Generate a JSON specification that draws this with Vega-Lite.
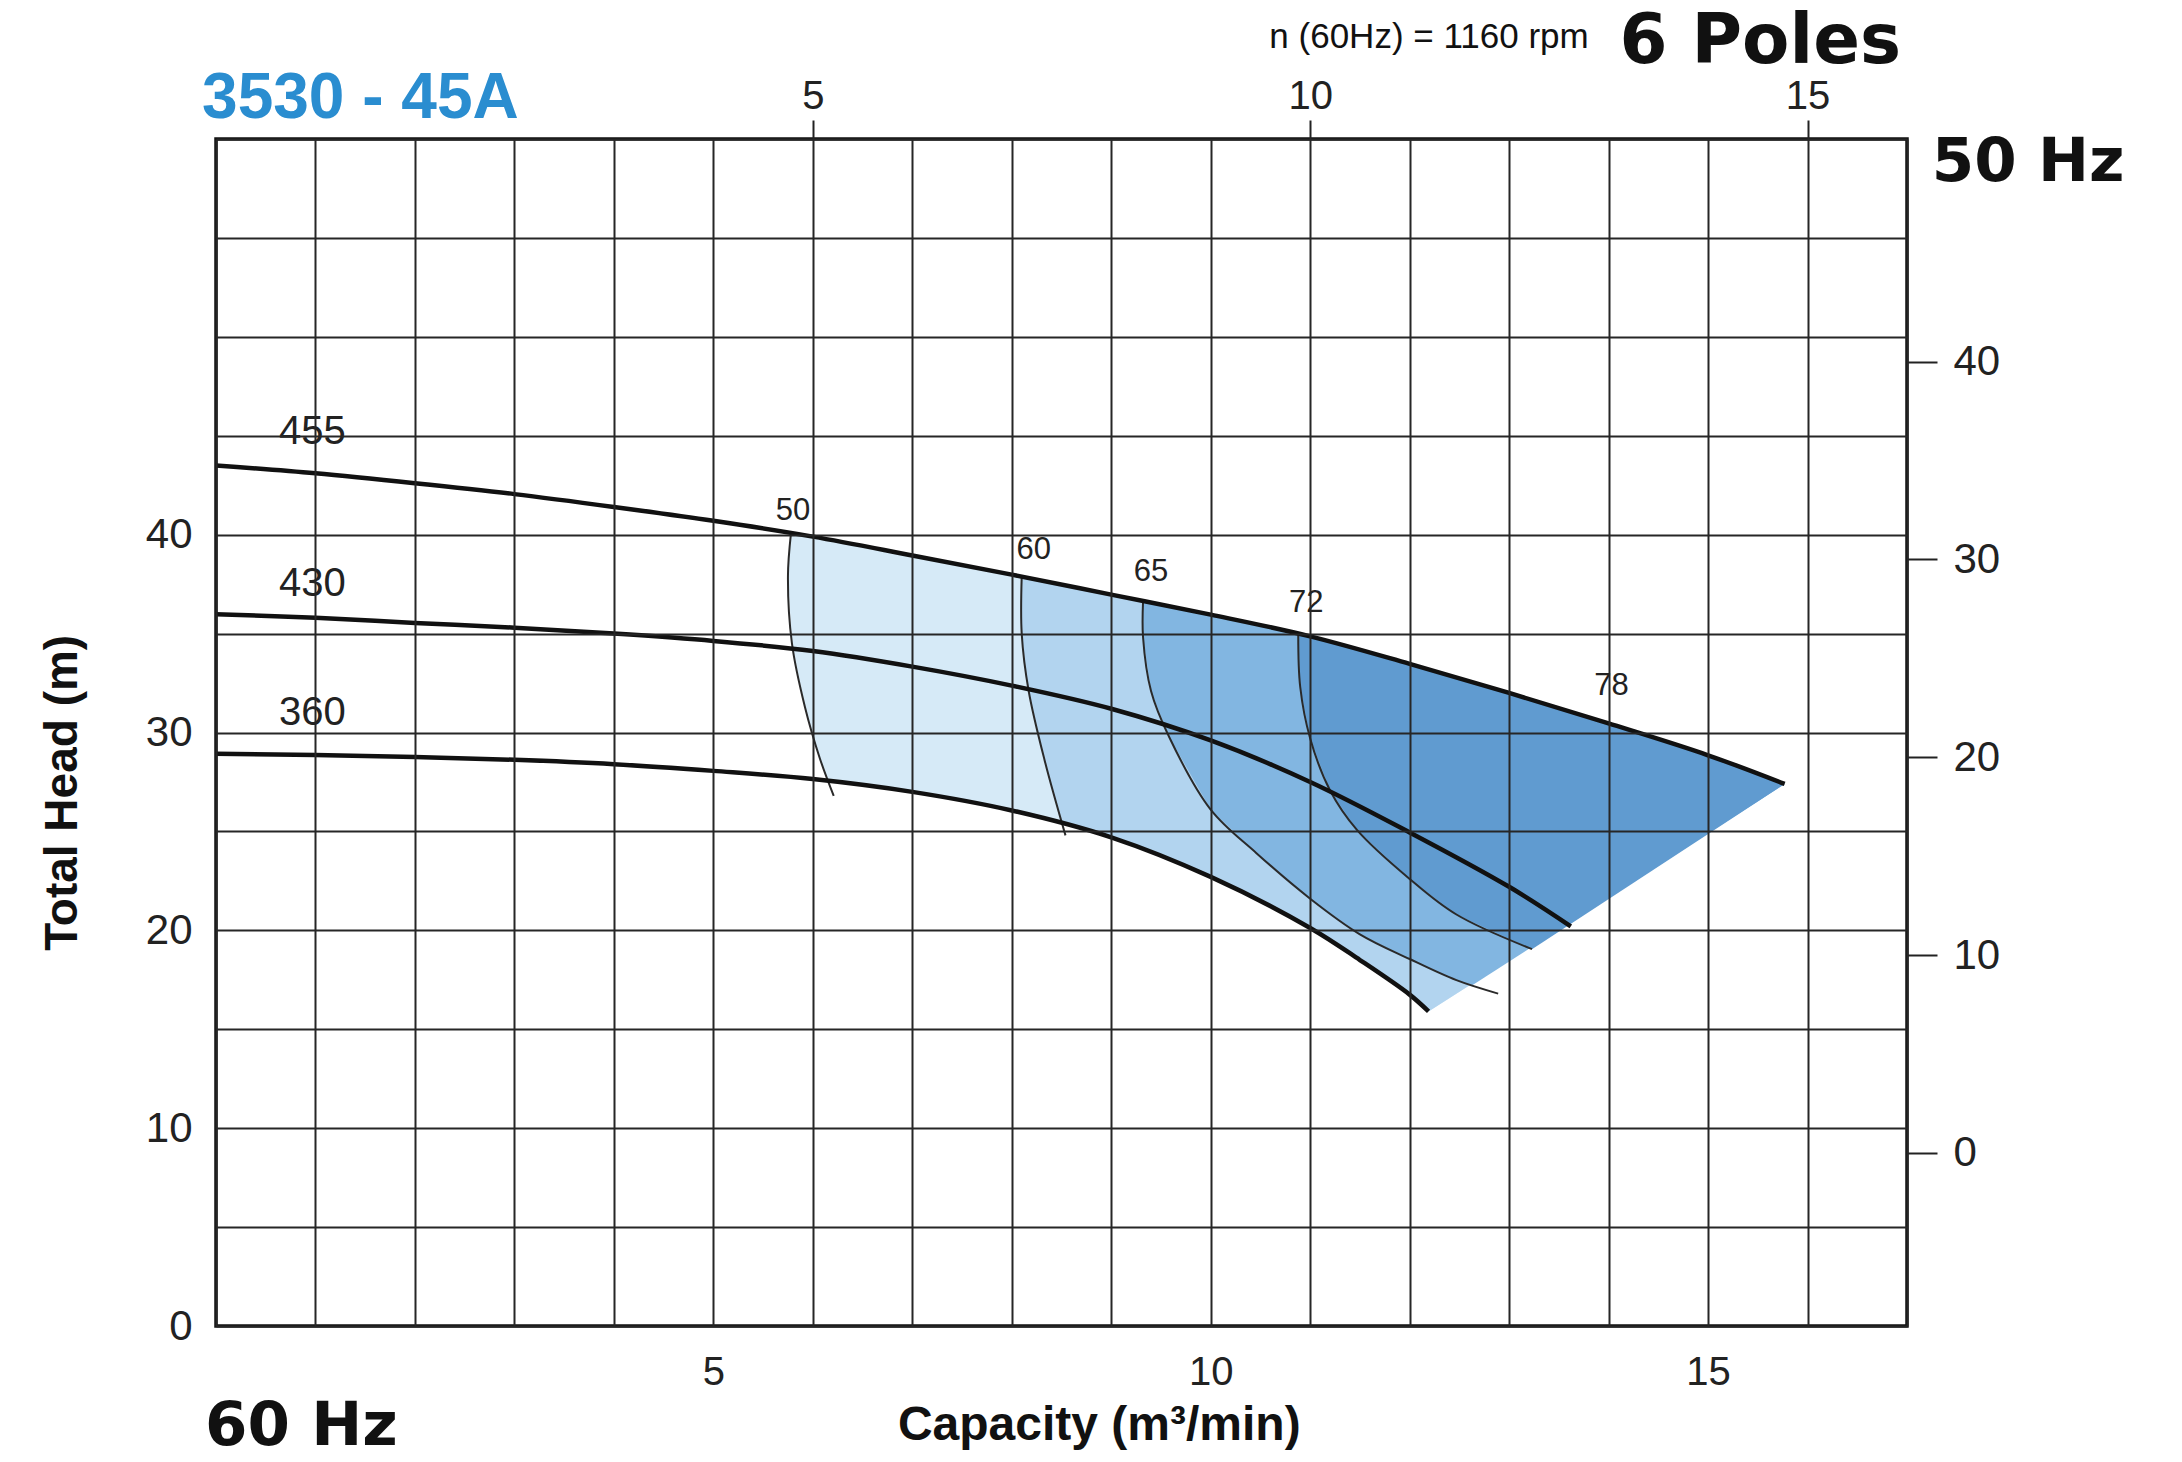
{
  "$schema": "https://vega.github.io/schema/vega-lite/v6.json",
  "width": 1691,
  "height": 1187,
  "autosize": {"type": "none"},
  "padding": {"left": 216, "top": 139, "right": 275, "bottom": 136},
  "background": "white",
  "config": {
    "view": {"stroke": "#111", "strokeWidth": 3.5},
    "font": "Liberation Sans",
    "axis": {"labelFont": "Liberation Sans", "labelColor": "#222", "labelFlush": false, "labelOverlap": false, "domain": false}
  },
  "datasets": {
    "heads": [
      {"curve": "455", "i": 0, "q": 0, "h": 43.5},
      {"curve": "455", "i": 1, "q": 1, "h": 43.1},
      {"curve": "455", "i": 2, "q": 2, "h": 42.6},
      {"curve": "455", "i": 3, "q": 3, "h": 42.05},
      {"curve": "455", "i": 4, "q": 4, "h": 41.4},
      {"curve": "455", "i": 5, "q": 5, "h": 40.7},
      {"curve": "455", "i": 6, "q": 6, "h": 39.9},
      {"curve": "455", "i": 7, "q": 7, "h": 38.95},
      {"curve": "455", "i": 8, "q": 8, "h": 37.98},
      {"curve": "455", "i": 9, "q": 9, "h": 36.97},
      {"curve": "455", "i": 10, "q": 10, "h": 35.96},
      {"curve": "455", "i": 11, "q": 11, "h": 34.86},
      {"curve": "455", "i": 12, "q": 12, "h": 33.47},
      {"curve": "455", "i": 13, "q": 13, "h": 32.0},
      {"curve": "455", "i": 14, "q": 14, "h": 30.46},
      {"curve": "455", "i": 15, "q": 15, "h": 28.85},
      {"curve": "455", "i": 16, "q": 15.77, "h": 27.4},
      {"curve": "430", "i": 0, "q": 0, "h": 35.98},
      {"curve": "430", "i": 1, "q": 1, "h": 35.8},
      {"curve": "430", "i": 2, "q": 2, "h": 35.54},
      {"curve": "430", "i": 3, "q": 3, "h": 35.3},
      {"curve": "430", "i": 4, "q": 4, "h": 35.0},
      {"curve": "430", "i": 5, "q": 5, "h": 34.63},
      {"curve": "430", "i": 6, "q": 6, "h": 34.12},
      {"curve": "430", "i": 7, "q": 7, "h": 33.33},
      {"curve": "430", "i": 8, "q": 8, "h": 32.37},
      {"curve": "430", "i": 9, "q": 9, "h": 31.2},
      {"curve": "430", "i": 10, "q": 10, "h": 29.6},
      {"curve": "430", "i": 11, "q": 11, "h": 27.5},
      {"curve": "430", "i": 12, "q": 12, "h": 24.95},
      {"curve": "430", "i": 13, "q": 13, "h": 22.2},
      {"curve": "430", "i": 14, "q": 13.62, "h": 20.2},
      {"curve": "360", "i": 0, "q": 0, "h": 28.93},
      {"curve": "360", "i": 1, "q": 1, "h": 28.86},
      {"curve": "360", "i": 2, "q": 2, "h": 28.76},
      {"curve": "360", "i": 3, "q": 3, "h": 28.62},
      {"curve": "360", "i": 4, "q": 4, "h": 28.4},
      {"curve": "360", "i": 5, "q": 5, "h": 28.06},
      {"curve": "360", "i": 6, "q": 6, "h": 27.65},
      {"curve": "360", "i": 7, "q": 7, "h": 27.0},
      {"curve": "360", "i": 8, "q": 8, "h": 26.06},
      {"curve": "360", "i": 9, "q": 9, "h": 24.7},
      {"curve": "360", "i": 10, "q": 10, "h": 22.7},
      {"curve": "360", "i": 11, "q": 11, "h": 20.12},
      {"curve": "360", "i": 12, "q": 11.5, "h": 18.5},
      {"curve": "360", "i": 13, "q": 12, "h": 16.75},
      {"curve": "360", "i": 14, "q": 12.19, "h": 15.9}
    ],
    "effs": [
      {"eff": "50", "i": 0, "q": 5.78, "h": 40.05},
      {"eff": "50", "i": 1, "q": 5.75, "h": 37.9},
      {"eff": "50", "i": 2, "q": 5.79, "h": 34.5},
      {"eff": "50", "i": 3, "q": 5.92, "h": 31.3},
      {"eff": "50", "i": 4, "q": 6.07, "h": 28.7},
      {"eff": "50", "i": 5, "q": 6.21, "h": 26.8},
      {"eff": "60", "i": 0, "q": 8.1, "h": 37.88},
      {"eff": "60", "i": 1, "q": 8.1, "h": 35.0},
      {"eff": "60", "i": 2, "q": 8.17, "h": 32.1},
      {"eff": "60", "i": 3, "q": 8.33, "h": 28.6},
      {"eff": "60", "i": 4, "q": 8.54, "h": 24.8},
      {"eff": "65", "i": 0, "q": 9.32, "h": 36.65},
      {"eff": "65", "i": 1, "q": 9.32, "h": 34.8},
      {"eff": "65", "i": 2, "q": 9.4, "h": 32.1},
      {"eff": "65", "i": 3, "q": 9.58, "h": 29.8},
      {"eff": "65", "i": 4, "q": 10.0, "h": 26.1},
      {"eff": "65", "i": 5, "q": 10.46, "h": 23.9},
      {"eff": "65", "i": 6, "q": 11.0, "h": 21.6},
      {"eff": "65", "i": 7, "q": 11.5, "h": 19.8},
      {"eff": "65", "i": 8, "q": 12.0, "h": 18.55},
      {"eff": "65", "i": 9, "q": 12.47, "h": 17.48},
      {"eff": "65", "i": 10, "q": 12.89, "h": 16.8},
      {"eff": "72", "i": 0, "q": 10.88, "h": 34.95},
      {"eff": "72", "i": 1, "q": 10.9, "h": 32.3},
      {"eff": "72", "i": 2, "q": 11.0, "h": 29.7},
      {"eff": "72", "i": 3, "q": 11.2, "h": 27.07},
      {"eff": "72", "i": 4, "q": 11.47, "h": 25.08},
      {"eff": "72", "i": 5, "q": 12.0, "h": 22.6},
      {"eff": "72", "i": 6, "q": 12.47, "h": 20.8},
      {"eff": "72", "i": 7, "q": 13.23, "h": 19.05}
    ],
    "zones": [
      {"zone": "z50", "i": 0, "q": 5.78, "h": 40.05},
      {"zone": "z50", "i": 1, "q": 6, "h": 39.9},
      {"zone": "z50", "i": 2, "q": 7, "h": 38.95},
      {"zone": "z50", "i": 3, "q": 8, "h": 37.98},
      {"zone": "z50", "i": 4, "q": 9, "h": 36.97},
      {"zone": "z50", "i": 5, "q": 10, "h": 35.96},
      {"zone": "z50", "i": 6, "q": 11, "h": 34.86},
      {"zone": "z50", "i": 7, "q": 12, "h": 33.47},
      {"zone": "z50", "i": 8, "q": 13, "h": 32.0},
      {"zone": "z50", "i": 9, "q": 14, "h": 30.46},
      {"zone": "z50", "i": 10, "q": 15, "h": 28.85},
      {"zone": "z50", "i": 11, "q": 15.77, "h": 27.4},
      {"zone": "z50", "i": 12, "q": 12.19, "h": 15.9},
      {"zone": "z50", "i": 13, "q": 12, "h": 16.75},
      {"zone": "z50", "i": 14, "q": 11.5, "h": 18.5},
      {"zone": "z50", "i": 15, "q": 11, "h": 20.12},
      {"zone": "z50", "i": 16, "q": 10, "h": 22.7},
      {"zone": "z50", "i": 17, "q": 9, "h": 24.7},
      {"zone": "z50", "i": 18, "q": 8, "h": 26.06},
      {"zone": "z50", "i": 19, "q": 7, "h": 27.0},
      {"zone": "z50", "i": 20, "q": 6.15, "h": 27.57},
      {"zone": "z50", "i": 21, "q": 6.07, "h": 28.7},
      {"zone": "z50", "i": 22, "q": 5.92, "h": 31.3},
      {"zone": "z50", "i": 23, "q": 5.79, "h": 34.5},
      {"zone": "z50", "i": 24, "q": 5.75, "h": 37.9},
      {"zone": "z60", "i": 0, "q": 8.1, "h": 37.88},
      {"zone": "z60", "i": 1, "q": 9, "h": 36.97},
      {"zone": "z60", "i": 2, "q": 10, "h": 35.96},
      {"zone": "z60", "i": 3, "q": 11, "h": 34.86},
      {"zone": "z60", "i": 4, "q": 12, "h": 33.47},
      {"zone": "z60", "i": 5, "q": 13, "h": 32.0},
      {"zone": "z60", "i": 6, "q": 14, "h": 30.46},
      {"zone": "z60", "i": 7, "q": 15, "h": 28.85},
      {"zone": "z60", "i": 8, "q": 15.77, "h": 27.4},
      {"zone": "z60", "i": 9, "q": 12.19, "h": 15.9},
      {"zone": "z60", "i": 10, "q": 12, "h": 16.75},
      {"zone": "z60", "i": 11, "q": 11.5, "h": 18.5},
      {"zone": "z60", "i": 12, "q": 11, "h": 20.12},
      {"zone": "z60", "i": 13, "q": 10, "h": 22.7},
      {"zone": "z60", "i": 14, "q": 9, "h": 24.7},
      {"zone": "z60", "i": 15, "q": 8.5, "h": 25.4},
      {"zone": "z60", "i": 16, "q": 8.33, "h": 28.6},
      {"zone": "z60", "i": 17, "q": 8.17, "h": 32.1},
      {"zone": "z60", "i": 18, "q": 8.1, "h": 35.0},
      {"zone": "z65", "i": 0, "q": 9.32, "h": 36.65},
      {"zone": "z65", "i": 1, "q": 10, "h": 35.96},
      {"zone": "z65", "i": 2, "q": 11, "h": 34.86},
      {"zone": "z65", "i": 3, "q": 12, "h": 33.47},
      {"zone": "z65", "i": 4, "q": 13, "h": 32.0},
      {"zone": "z65", "i": 5, "q": 14, "h": 30.46},
      {"zone": "z65", "i": 6, "q": 15, "h": 28.85},
      {"zone": "z65", "i": 7, "q": 15.77, "h": 27.4},
      {"zone": "z65", "i": 8, "q": 12.63, "h": 17.22},
      {"zone": "z65", "i": 9, "q": 12.47, "h": 17.48},
      {"zone": "z65", "i": 10, "q": 12, "h": 18.55},
      {"zone": "z65", "i": 11, "q": 11.5, "h": 19.8},
      {"zone": "z65", "i": 12, "q": 11, "h": 21.6},
      {"zone": "z65", "i": 13, "q": 10.46, "h": 23.9},
      {"zone": "z65", "i": 14, "q": 10, "h": 26.1},
      {"zone": "z65", "i": 15, "q": 9.58, "h": 29.8},
      {"zone": "z65", "i": 16, "q": 9.4, "h": 32.1},
      {"zone": "z65", "i": 17, "q": 9.32, "h": 34.8},
      {"zone": "z72", "i": 0, "q": 10.88, "h": 34.95},
      {"zone": "z72", "i": 1, "q": 11, "h": 34.86},
      {"zone": "z72", "i": 2, "q": 12, "h": 33.47},
      {"zone": "z72", "i": 3, "q": 13, "h": 32.0},
      {"zone": "z72", "i": 4, "q": 14, "h": 30.46},
      {"zone": "z72", "i": 5, "q": 15, "h": 28.85},
      {"zone": "z72", "i": 6, "q": 15.77, "h": 27.4},
      {"zone": "z72", "i": 7, "q": 13.23, "h": 19.05},
      {"zone": "z72", "i": 8, "q": 12.47, "h": 20.8},
      {"zone": "z72", "i": 9, "q": 12, "h": 22.6},
      {"zone": "z72", "i": 10, "q": 11.47, "h": 25.08},
      {"zone": "z72", "i": 11, "q": 11.2, "h": 27.07},
      {"zone": "z72", "i": 12, "q": 11, "h": 29.7},
      {"zone": "z72", "i": 13, "q": 10.9, "h": 32.3}
    ],
    "curveLabels": [
      {"text": "455", "q": 0.97, "h": 45.2},
      {"text": "430", "q": 0.97, "h": 37.5},
      {"text": "360", "q": 0.97, "h": 31.0}
    ],
    "effLabels": [
      {"text": "50", "q": 5.8, "h": 41.2},
      {"text": "60", "q": 8.22, "h": 39.25},
      {"text": "65", "q": 9.4, "h": 38.1},
      {"text": "72", "q": 10.96, "h": 36.55},
      {"text": "78", "q": 14.03, "h": 32.35}
    ],
    "notes": [
      {"id": "model", "text": "3530 - 45A", "q": -0.14, "h": 61.07},
      {"id": "rpm", "text": "n (60Hz) = 1160 rpm", "q": 13.8, "h": 64.6},
      {"id": "poles", "text": "6 Poles", "q": 16.94, "h": 63.85},
      {"id": "hz50", "text": "50 Hz", "q": 17.25, "h": 57.9},
      {"id": "hz60", "text": "60 Hz", "q": -0.11, "h": -6.0},
      {"id": "ytitle", "text": "Total Head (m)", "q": -1.54, "h": 26.95},
      {"id": "xtitle", "text": "Capacity (m³/min)", "q": 8.88, "h": -5.76}
    ],
    "ax50": [
      {"q50": 5, "h50": 0},
      {"q50": 15, "h50": 40}
    ]
  },
  "layer": [
    {
      "encoding": {
        "x": {
          "field": "q", "type": "quantitative",
          "scale": {"domain": [0, 17], "nice": false, "zero": false},
          "axis": {
            "title": null,
            "values": [0, 1, 2, 3, 4, 5, 6, 7, 8, 9, 10, 11, 12, 13, 14, 15, 16, 17],
            "labelExpr": "datum.value % 5 == 0 && datum.value > 0 && datum.value < 17 ? datum.label : ''",
            "grid": true, "gridColor": "#262626", "gridWidth": 2, "gridOpacity": 1,
            "ticks": false, "tickSize": 0, "labelFontSize": 40, "labelPadding": 26, "zindex": 1
          }
        },
        "y": {
          "field": "h", "type": "quantitative",
          "scale": {"domain": [0, 60], "nice": false, "zero": false},
          "axis": {
            "title": null,
            "values": [0, 5, 10, 15, 20, 25, 30, 35, 40, 45, 50, 55, 60],
            "labelExpr": "datum.value % 10 == 0 && datum.value <= 40 ? datum.label : ''",
            "grid": true, "gridColor": "#262626", "gridWidth": 2, "gridOpacity": 1,
            "ticks": false, "tickSize": 0, "labelFontSize": 42, "labelPadding": 24, "zindex": 1
          }
        }
      },
      "layer": [
        {
          "data": {"name": "zones"},
          "transform": [{"filter": {"field": "zone", "equal": "z50"}}],
          "mark": {"type": "line", "fill": "#d6eaf7", "stroke": "transparent", "strokeWidth": 0},
          "encoding": {"order": {"field": "i", "type": "quantitative"}}
        },
        {
          "data": {"name": "zones"},
          "transform": [{"filter": {"field": "zone", "equal": "z60"}}],
          "mark": {"type": "line", "fill": "#b2d4ef", "stroke": "transparent", "strokeWidth": 0},
          "encoding": {"order": {"field": "i", "type": "quantitative"}}
        },
        {
          "data": {"name": "zones"},
          "transform": [{"filter": {"field": "zone", "equal": "z65"}}],
          "mark": {"type": "line", "fill": "#82b6e1", "stroke": "transparent", "strokeWidth": 0},
          "encoding": {"order": {"field": "i", "type": "quantitative"}}
        },
        {
          "data": {"name": "zones"},
          "transform": [{"filter": {"field": "zone", "equal": "z72"}}],
          "mark": {"type": "line", "fill": "#609bd0", "stroke": "transparent", "strokeWidth": 0},
          "encoding": {"order": {"field": "i", "type": "quantitative"}}
        },
        {
          "data": {"name": "effs"},
          "mark": {"type": "line", "color": "#2a2a2a", "strokeWidth": 2, "interpolate": "catmull-rom"},
          "encoding": {
            "detail": {"field": "eff"},
            "order": {"field": "i", "type": "quantitative"}
          }
        },
        {
          "data": {"name": "heads"},
          "mark": {"type": "line", "color": "#111", "strokeWidth": 4.5, "interpolate": "catmull-rom"},
          "encoding": {
            "detail": {"field": "curve"},
            "order": {"field": "i", "type": "quantitative"}
          }
        },
        {
          "data": {"name": "curveLabels"},
          "mark": {"type": "text", "fontSize": 40, "color": "#222", "align": "center", "baseline": "middle"},
          "encoding": {"text": {"field": "text"}}
        },
        {
          "data": {"name": "effLabels"},
          "mark": {"type": "text", "fontSize": 31, "color": "#222", "align": "center", "baseline": "middle"},
          "encoding": {"text": {"field": "text"}}
        },
        {
          "data": {"name": "notes"},
          "transform": [{"filter": {"field": "id", "equal": "model"}}],
          "mark": {"type": "text", "font": "Liberation Sans", "fontWeight": "bold", "fontSize": 64, "color": "#2a8dd0", "align": "left", "baseline": "alphabetic"},
          "encoding": {"text": {"field": "text"}}
        },
        {
          "data": {"name": "notes"},
          "transform": [{"filter": {"field": "id", "equal": "rpm"}}],
          "mark": {"type": "text", "fontSize": 35, "color": "#111", "align": "right", "baseline": "alphabetic"},
          "encoding": {"text": {"field": "text"}}
        },
        {
          "data": {"name": "notes"},
          "transform": [{"filter": {"field": "id", "equal": "poles"}}],
          "mark": {"type": "text", "font": "DejaVu Sans", "fontWeight": "bold", "fontSize": 69, "color": "#111", "align": "right", "baseline": "alphabetic"},
          "encoding": {"text": {"field": "text"}}
        },
        {
          "data": {"name": "notes"},
          "transform": [{"filter": {"field": "id", "oneOf": ["hz50", "hz60"]}}],
          "mark": {"type": "text", "font": "DejaVu Sans", "fontWeight": "bold", "fontSize": 61, "color": "#111", "align": "left", "baseline": "alphabetic"},
          "encoding": {"text": {"field": "text"}}
        },
        {
          "data": {"name": "notes"},
          "transform": [{"filter": {"field": "id", "equal": "ytitle"}}],
          "mark": {"type": "text", "fontWeight": "bold", "fontSize": 46, "color": "#111", "angle": 270, "align": "center", "baseline": "middle"},
          "encoding": {"text": {"field": "text"}}
        },
        {
          "data": {"name": "notes"},
          "transform": [{"filter": {"field": "id", "equal": "xtitle"}}],
          "mark": {"type": "text", "fontWeight": "bold", "fontSize": 48, "color": "#111", "align": "center", "baseline": "alphabetic"},
          "encoding": {"text": {"field": "text"}}
        }
      ]
    },
    {
      "data": {"name": "ax50"},
      "mark": {"type": "point", "opacity": 0},
      "encoding": {
        "x": {
          "field": "q50", "type": "quantitative",
          "scale": {"domain": [-1, 16], "nice": false, "zero": false},
          "axis": {
            "orient": "top", "title": null, "values": [5, 10, 15], "grid": false,
            "ticks": true, "tickSize": 19, "tickWidth": 2, "tickColor": "#222",
            "labelFontSize": 40, "labelPadding": 4
          }
        },
        "y": {
          "field": "h50", "type": "quantitative",
          "scale": {"domain": [-8.75, 51.25], "nice": false, "zero": false},
          "axis": {
            "orient": "right", "title": null, "values": [0, 10, 20, 30, 40], "grid": false,
            "ticks": true, "tickSize": 30, "tickWidth": 2, "tickColor": "#222",
            "labelFontSize": 42, "labelPadding": 16
          }
        }
      }
    }
  ],
  "resolve": {"scale": {"x": "independent", "y": "independent"}}
}
